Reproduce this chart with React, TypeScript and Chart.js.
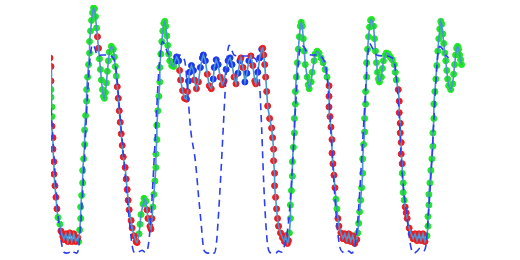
import React, { useEffect, useRef } from "react";
import { Chart, registerables } from "chart.js";

Chart.register(...registerables);

// Recorded signal: time (samples), value, and phase label per sample
// phase: r = falling, g = rising, b = plateau
const sampleTime = [
  48, 50, 51, 51, 51, 51, 52, 52, 52, 53, 53, 54, 54, 55, 56, 57, 58, 60, 61, 63,
  64, 66, 68, 70, 72, 74, 76, 78, 79, 80, 81, 81, 82, 83, 83, 84, 85, 85, 86, 87,
  87, 88, 89, 90, 90, 91, 92, 93, 94, 95, 96, 97, 98, 99, 100, 101, 102, 103, 104, 105,
  106, 107, 108, 109, 110, 112, 114, 115, 116, 117, 118, 119, 120, 121, 122, 123, 124, 126, 127, 128,
  129, 130, 132, 133, 135, 137, 138, 140, 141, 142, 144, 145, 147, 148, 149, 151, 152, 153, 154, 155,
  156, 157, 157, 158, 158, 159, 160, 161, 161, 162, 163, 164, 165, 166, 167, 168, 169, 170, 171, 173,
  175, 176, 178, 180, 181, 182, 184, 186, 188, 189, 190, 191, 193, 195, 196, 198, 200, 202, 204, 205,
  207, 209, 211, 213, 215, 216, 218, 220, 222, 224, 226, 228, 230, 232, 234, 236, 238, 240, 242, 243,
  245, 247, 249, 251, 253, 255, 257, 258, 260, 262, 264, 265, 266, 267, 268, 269, 270, 272, 274, 275,
  276, 276, 277, 277, 278, 279, 280, 281, 283, 285, 287, 288, 290, 291, 292, 293, 293, 294, 295, 295,
  296, 297, 297, 298, 298, 299, 300, 301, 302, 303, 304, 305, 306, 307, 308, 310, 311, 312, 314, 315,
  317, 318, 320, 322, 324, 326, 328, 330, 332, 332, 332, 333, 334, 335, 335, 336, 337, 338, 339, 340,
  341, 342, 344, 346, 348, 350, 352, 354, 356, 358, 360, 361, 362, 363, 364, 365, 366, 366, 367, 368,
  368, 369, 369, 370, 370, 371, 372, 373, 374, 375, 377, 378, 379, 380, 381, 382, 383, 385, 386, 387,
  389, 390, 392, 394, 396, 398, 399, 400, 402, 403, 403, 404, 404, 405, 405, 406, 406, 407, 407, 408,
  409, 410, 411, 413, 415, 417, 419, 421, 423, 425, 427, 429, 431, 432, 432, 433, 433, 434, 435, 436,
  437, 437, 438, 438, 439, 440, 441, 442, 443, 444, 445, 446, 447, 448, 449, 450, 451, 452, 453, 455,
  457, 458, 459, 460, 461, 462, 463, 464, 465, 466,
];

const sampleValue = [
  215, 205, 196, 181, 172, 164, 154, 144, 134, 122, 110, 97, 84, 72, 60, 48, 39, 32, 25, 19,
  16, 22, 14, 23, 14, 22, 14, 18, 14, 26, 38, 50, 62, 75, 88, 100, 115, 130, 145, 160,
  172, 185, 198, 210, 222, 233, 244, 252, 257, 256, 248, 236, 227, 215, 204, 193, 182, 172, 165, 163,
  169, 179, 191, 202, 211, 217, 214, 206, 196, 186, 175, 163, 150, 138, 126, 114, 102, 91, 79, 68,
  57, 47, 36, 28, 20, 14, 13, 22, 32, 42, 53, 59, 56, 47, 38, 30, 27, 38, 50, 63,
  77, 91, 105, 120, 135, 150, 165, 180, 195, 209, 222, 233, 241, 243, 238, 228, 218, 209, 202, 197,
  196, 201, 206, 202, 192, 182, 171, 163, 162, 170, 181, 190, 197, 192, 182, 173, 180, 195, 205, 208,
  202, 188, 176, 173, 183, 195, 203, 198, 185, 177, 181, 193, 202, 205, 198, 185, 178, 189, 202, 205,
  195, 180, 189, 202, 207, 197, 181, 178, 190, 205, 214, 215, 208, 198, 185, 170, 155, 142, 132, 122,
  110, 98, 85, 72, 60, 48, 38, 30, 23, 18, 14, 20, 12, 15, 23, 38, 52, 67, 82, 97,
  112, 127, 142, 157, 170, 185, 200, 214, 227, 238, 242, 238, 225, 212, 198, 185, 177, 173, 180, 190,
  202, 209, 212, 210, 205, 200, 193, 185, 176, 165, 154, 144, 133, 120, 106, 95, 83, 70, 58, 48,
  38, 30, 23, 17, 22, 15, 22, 14, 20, 12, 16, 23, 33, 45, 57, 70, 85, 100, 115, 128,
  142, 157, 170, 185, 200, 214, 227, 237, 244, 245, 238, 225, 212, 200, 190, 183, 180, 185, 194, 202,
  208, 210, 209, 206, 203, 198, 190, 182, 172, 160, 148, 137, 127, 117, 105, 95, 85, 75, 65, 57,
  50, 44, 38, 28, 22, 17, 22, 15, 22, 15, 22, 14, 20, 30, 40, 52, 63, 75, 88, 100,
  113, 127, 142, 157, 170, 183, 197, 212, 225, 235, 243, 240, 230, 220, 210, 202, 192, 183, 176, 172,
  178, 188, 198, 208, 215, 217, 214, 208, 203, 198,
];

const samplePhase = (
  "rrrrggggrrrrrrrrggrr" +
  "rrrrrrrrgggggggggggg" +
  "ggggggggggggrrgggggg" +
  "ggggggggggrrrrrrrrrr" +
  "rrrrrrrggggggrrrrrgg" +
  "gggggggggggggggggggg" +
  "gbbbrrrrrrbbbbrrrbbb" +
  "brrrbbbbrrrbbbbrrbbr" +
  "rbbbrrrrbbbrrrrrrrrr" +
  "rrrrrrrrrrrrrrgggggg" +
  "gggggggggggggggggggg" +
  "ggggggggrrrrrrrrrrgg" +
  "rrrrrrrrrrrggggggggg" +
  "gggggggggggggggggggg" +
  "ggggggggrrrrrrrrgggg" +
  "rrrrrrrrrrrrgggggggg" +
  "gggggggggggggggggggg" +
  "gggggggggg"
).split("");

// Model (expected) trajectory
const modelTime = [
  44, 47, 50, 53, 56, 59, 62, 64, 67, 70, 72, 74, 77, 79, 81, 83, 85, 87, 89, 91,
  93, 95, 98, 102, 108, 113, 116, 118, 120, 122, 125, 128, 131, 133, 135, 138, 141, 143, 146, 148,
  150, 152, 154, 156, 158, 160, 162, 164, 166, 169, 174, 180, 185, 187, 189, 192, 197, 200, 203, 205,
  207, 210, 213, 216, 218, 220, 223, 225, 227, 229, 231, 233, 236, 242, 250, 256, 260, 262, 264, 266,
  268, 270, 272, 275, 278, 281, 284, 287, 290, 292, 294, 296, 298, 300, 302, 304, 307, 310, 314, 320,
  326, 329, 331, 333, 335, 337, 339, 341, 343, 346, 349, 352, 355, 357, 359, 361, 363, 365, 367, 369,
  371, 373, 376, 380, 388, 396, 399, 401, 403, 405, 408, 411, 413, 415, 418, 421, 424, 427, 430, 432,
  434, 436, 438, 440, 442, 444, 447, 450, 453,
];

const modelValue = [
  240, 205, 165, 120, 70, 32, 10, 3, 2, 3, 5, 3, 2, 8, 32, 65, 105, 148, 185, 210,
  219, 216, 207, 208, 208, 206, 198, 180, 155, 130, 95, 60, 28, 10, 3, 2, 4, 5, 3, 4,
  15, 40, 75, 115, 155, 192, 215, 222, 218, 210, 207, 208, 205, 197, 172, 132, 97, 63, 30, 8,
  3, 2, 4, 2, 10, 37, 90, 130, 170, 205, 218, 215, 208, 207, 207, 205, 198, 175, 130, 75,
  35, 10, 3, 2, 2, 4, 3, 10, 25, 45, 75, 110, 150, 185, 210, 218, 216, 210, 208, 208,
  204, 195, 175, 145, 110, 75, 45, 22, 8, 3, 2, 4, 2, 5, 15, 35, 65, 100, 135, 172,
  205, 220, 215, 208, 207, 205, 195, 175, 145, 100, 63, 38, 20, 7, 2, 4, 7, 4, 10, 35,
  65, 100, 140, 180, 208, 217, 214, 208, 205,
];

const pts = (t: number[], v: number[]) => t.map((x, i) => ({ x, y: v[i] }));
const phasePts = (p: string) =>
  sampleTime
    .map((x, i) => ({ x, y: sampleValue[i], p: samplePhase[i] }))
    .filter((d) => d.p === p)
    .map(({ x, y }) => ({ x, y }));

export default function App() {
  const ref = useRef<HTMLCanvasElement | null>(null);

  useEffect(() => {
    if (!ref.current) return;
    const pointDs = (label: string, p: string, color: string) => ({
      label,
      data: phasePts(p),
      showLine: false,
      pointRadius: 3,
      pointBorderWidth: 1,
      pointBackgroundColor: color,
      pointBorderColor: color,
      borderColor: color,
      backgroundColor: color,
      order: 3,
      clip: 0,
    });
    const chart = new Chart(ref.current, {
      type: "line",
      data: {
        datasets: [
          {
            label: "model",
            data: pts(modelTime, modelValue),
            borderColor: "#2b3ff0",
            borderWidth: 1.6,
            borderDash: [7, 5],
            pointRadius: 0,
            cubicInterpolationMode: "monotone",
            fill: false,
            order: 1,
            clip: 0,
          },
          {
            label: "signal",
            data: pts(sampleTime, sampleValue),
            borderColor: "#4a93d6",
            borderWidth: 1.6,
            pointRadius: 0,
            tension: 0,
            fill: false,
            order: 2,
            clip: 0,
          },
          pointDs("falling", "r", "#ee1c1c"),
          pointDs("rising", "g", "#1ee81e"),
          pointDs("plateau", "b", "#1a35ee"),
        ] as any,
      },
      options: {
        animation: false,
        responsive: false,
        events: [],
        layout: { padding: { left: 51, right: 0, top: 0, bottom: 0 } },
        plugins: { legend: { display: false }, tooltip: { enabled: false } },
        scales: {
          x: { type: "linear", min: 51, max: 520, display: false },
          y: { type: "linear", min: 0, max: 260, display: false },
        },
      },
    });
    return () => chart.destroy();
  }, []);

  return (
    <div style={{ position: "absolute", left: 0, top: 0, width: 520, height: 260, background: "#fff" }}>
      <canvas ref={ref} width={520} height={260} />
    </div>
  );
}
